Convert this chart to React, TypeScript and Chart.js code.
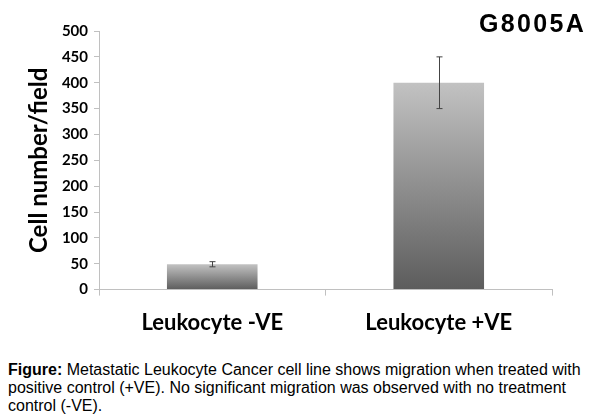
import React, { useEffect, useRef } from "react";
import { Chart, registerables } from "chart.js";

Chart.register(...registerables);

const categories = ["Leukocyte -VE", "Leukocyte +VE"];
const cellCounts = [49, 400];
const errorValues = [5, 50];
const yMin = 0;
const yMax = 500;
const yStep = 50;
const chartTitle = "G8005A";
const yAxisTitle = "Cell number/field";

const errorBarPlugin = {
  id: "errorBars",
  afterDatasetsDraw(chart: any) {
    const { ctx, scales } = chart;
    const meta = chart.getDatasetMeta(0);
    ctx.save();
    ctx.strokeStyle = "#444444";
    ctx.lineWidth = 1;
    meta.data.forEach((bar: any, i: number) => {
      const v = cellCounts[i];
      const e = errorValues[i];
      const x = Math.round(bar.x) + 0.5;
      const yHi = scales.y.getPixelForValue(v + e);
      const yLo = scales.y.getPixelForValue(v - e);
      const cap = 3;
      ctx.beginPath();
      ctx.moveTo(x, yHi);
      ctx.lineTo(x, yLo);
      ctx.moveTo(x - cap, yHi);
      ctx.lineTo(x + cap, yHi);
      ctx.moveTo(x - cap, yLo);
      ctx.lineTo(x + cap, yLo);
      ctx.stroke();
    });
    ctx.restore();
  },
};

export default function App() {
  const canvasRef = useRef<HTMLCanvasElement | null>(null);

  useEffect(() => {
    if (!canvasRef.current) return;
    const chart = new Chart(canvasRef.current, {
      type: "bar",
      data: {
        labels: categories,
        datasets: [
          {
            data: cellCounts,
            backgroundColor: (c: any) => {
              const ch = c.chart;
              const { chartArea, scales } = ch;
              if (!chartArea || c.type !== "data" || !scales.y) return "#8a8a8a";
              const yTop = scales.y.getPixelForValue(c.raw);
              const yBot = scales.y.getPixelForValue(0);
              if (!isFinite(yTop) || !isFinite(yBot) || yTop === yBot) return "#8a8a8a";
              const g = ch.ctx.createLinearGradient(0, yTop, 0, yBot);
              g.addColorStop(0, "#c2c2c2");
              g.addColorStop(1, "#5c5c5c");
              return g;
            },
            borderWidth: 0,
            barPercentage: 0.4,
            categoryPercentage: 1,
          },
        ],
      },
      options: {
        animation: false,
        responsive: false,
        maintainAspectRatio: false,
        layout: { padding: { top: 31, right: 48, left: 0, bottom: 0 } },
        plugins: {
          legend: { display: false },
          tooltip: { enabled: false },
          title: { display: false },
        },
        scales: {
          x: {
            grid: {
              display: true,
              offset: true,
              drawOnChartArea: false,
              drawTicks: true,
              tickLength: 6,
              color: "#c0c0c0",
            },
            border: { color: "#c0c0c0" },
            ticks: {
              color: "#000000",
              padding: 14,
              font: { family: "Lato", weight: "bold", size: 22 },
            },
          },
          y: {
            min: yMin,
            max: yMax,
            afterFit: (scale: any) => {
              scale.width = 99;
            },
            grid: {
              display: true,
              drawOnChartArea: false,
              drawTicks: true,
              tickLength: 5,
              color: "#c0c0c0",
            },
            border: { color: "#c0c0c0" },
            ticks: {
              stepSize: yStep,
              color: "#000000",
              padding: 6,
              font: { family: "Lato", weight: "bold", size: 15 },
            },
            title: {
              display: true,
              text: yAxisTitle,
              color: "#000000",
              padding: { top: 25, bottom: 0 },
              font: { family: "Lato", weight: "bold", size: 24, lineHeight: 1.2 },
            },
          },
        },
      },
      plugins: [errorBarPlugin],
    } as any);
    return () => chart.destroy();
  }, []);

  return (
    <div
      style={{
        position: "absolute",
        left: 0,
        top: 0,
        width: 600,
        height: 418,
        background: "#ffffff",
        overflow: "hidden",
      }}
    >
      <canvas ref={canvasRef} width={600} height={350} style={{ position: "absolute", left: 0, top: 0, width: 600, height: 350 }} />
      <div
        style={{
          position: "absolute",
          right: 14,
          top: 8,
          fontFamily: "'Liberation Sans', Arial, sans-serif",
          fontWeight: "bold",
          fontSize: 25,
          letterSpacing: 2.3,
          color: "#000000",
          lineHeight: "30px",
        }}
      >
        {chartTitle}
      </div>
      <div
        style={{
          position: "absolute",
          left: 8,
          top: 361,
          fontFamily: "'Liberation Sans', Arial, sans-serif",
          fontSize: 16,
          lineHeight: "18px",
          color: "#000000",
          whiteSpace: "nowrap",
        }}
      >
        <b>Figure:</b> Metastatic Leukocyte Cancer cell line shows migration when treated with
        <br />
        positive control (+VE). No significant migration was observed with no treatment
        <br />
        control (-VE).
      </div>
    </div>
  );
}
